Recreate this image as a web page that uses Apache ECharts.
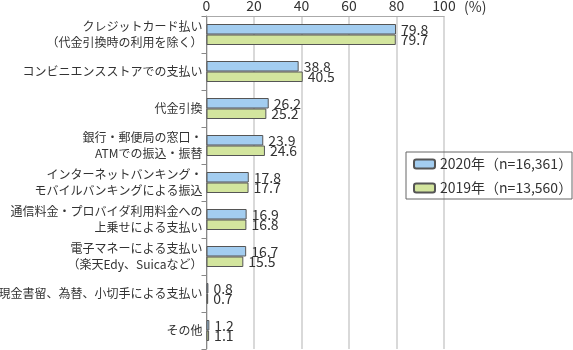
<!DOCTYPE html>
<html><head><meta charset="utf-8">
<script src="https://cdn.jsdelivr.net/npm/echarts@6/dist/echarts.min.js"></script>
<style>html,body{margin:0;padding:0;background:#fff}#c{width:573px;height:350px}</style>
</head><body><div id="c"></div>
<script>
const categories = [
  'クレジットカード払い\n（代金引換時の利用を除く）',
  'コンビニエンスストアでの支払い',
  '代金引換',
  '銀行・郵便局の窓口・\nATMでの振込・振替',
  'インターネットバンキング・\nモバイルバンキングによる振込',
  '通信料金・プロバイダ利用料金への\n上乗せによる支払い',
  '電子マネーによる支払い\n（楽天Edy、Suicaなど）',
  '現金書留、為替、小切手による支払い',
  'その他'
];
const values2020 = [79.8, 38.8, 26.2, 23.9, 17.8, 16.9, 16.7, 0.8, 1.2];
const values2019 = [79.7, 40.5, 25.2, 24.6, 17.7, 16.8, 15.5, 0.7, 1.1];
const seriesNames = ['2020年（n=16,361）', '2019年（n=13,560）'];
const xTicks = [0, 20, 40, 60, 80, 100];

const FONT = '"Noto Sans CJK JP", "Noto Sans", sans-serif';
const chart = echarts.init(document.getElementById('c'));
const labelStyle = {show: true, position: 'right', distance: 5, color: '#333', fontSize: 14, fontFamily: FONT, formatter: p => p.value.toFixed(1)};
chart.setOption({
  animation: false,
  textStyle: {fontFamily: FONT},
  grid: {left: 206.5, right: 129, top: 16, bottom: 1, containLabel: false, outerBoundsMode: 'none'},
  xAxis: {
    type: 'value', position: 'top', min: xTicks[0], max: xTicks[xTicks.length-1], interval: 20,
    axisLine: {show: true, lineStyle: {color: '#aaa', width: 1}},
    axisTick: {show: false},
    splitLine: {show: true, lineStyle: {color: '#ccc', width: 1.5}},
    axisLabel: {color: '#333', fontSize: 14, margin: 3, fontFamily: FONT}
  },
  yAxis: {
    type: 'category', inverse: true, data: categories,
    axisLine: {show: true, lineStyle: {color: '#888', width: 1}},
    axisTick: {show: true, length: 5, inside: false, lineStyle: {color: '#888'}},
    axisLabel: {color: '#333', fontSize: 12, lineHeight: 16, margin: 4, fontFamily: FONT}
  },
  legend: {
    orient: 'vertical', left: 407, top: 152,
    itemWidth: 21, itemHeight: 9, itemGap: 10,
    padding: [5, 6, 5, 6],
    textStyle: {color: '#333', fontSize: 14, fontFamily: FONT},
    data: seriesNames
  },
  series: [
    {name: seriesNames[0], type: 'bar', data: values2020, barWidth: 10.5, barGap: '0%',
     itemStyle: {color: '#a3cdf0', borderColor: '#555', borderWidth: 1}, label: labelStyle},
    {name: seriesNames[1], type: 'bar', data: values2019, barWidth: 10.5, barGap: '0%',
     itemStyle: {color: '#d3e59e', borderColor: '#555', borderWidth: 1}, label: labelStyle}
  ],
  graphic: [
    {type: 'text', left: 464, top: 0, style: {text: '(%)', fontSize: 14, fill: '#333', fontFamily: FONT}},
    {type: 'rect', shape: {x: 406, y: 152, width: 166, height: 47}, style: {fill: 'none', stroke: '#666', lineWidth: 1}, z: 10}
  ]
});
</script></body></html>
